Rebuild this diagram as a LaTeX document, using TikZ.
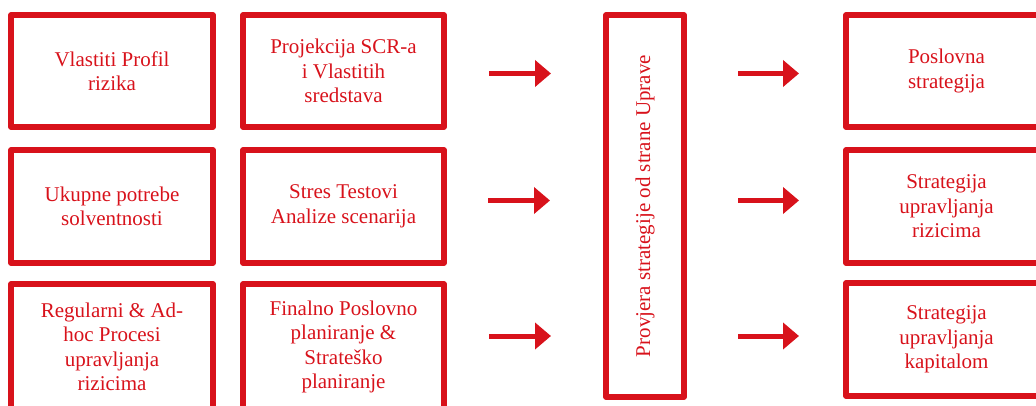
\documentclass[tikz,border=0pt]{standalone}
\usepackage{fontspec}
\setmainfont{Liberation Serif}
\usetikzlibrary{arrows.meta}
\definecolor{myred}{RGB}{216,18,27}
\tikzset{
  box/.style={draw=myred, line width=5.5pt, line join=round, text=myred,
    align=center, inner sep=0pt, font=\fontsize{21}{24.5}\selectfont},
  arr/.style={draw=myred, line width=5pt,
    -{Triangle[length=16pt,width=26pt]}}
}
\begin{document}
\begin{tikzpicture}[x=1pt,y=-1pt]
\path[use as bounding box, clip] (0,0) rectangle (1036,406);
% column 1
\node[box, minimum width=202pt, minimum height=112pt] (b11) at (112,71) {Vlastiti Profil\\rizika};
\node[box, minimum width=202pt, minimum height=113pt] (b12) at (112,206.5) {Ukupne potrebe\\solventnosti};
\node[box, minimum width=202pt, minimum height=126pt] (b13) at (112,347) {Regularni \& Ad-\\hoc Procesi\\upravljanja\\rizicima};
% column 2
\node[box, minimum width=201pt, minimum height=112pt] (b21) at (343.5,71) {Projekcija SCR-a\\i Vlastitih\\sredstava};
\node[box, minimum width=201pt, minimum height=113pt] (b22) at (343.5,206.5) {Stres Testovi\\Analize scenarija};
\node[box, minimum width=201pt, minimum height=126pt] (b23) at (343.5,347) {Finalno Poslovno\\planiranje \&\\Strateško\\planiranje};
% tall box
\node[box, minimum width=78pt, minimum height=382pt] (tall) at (645,206) {};
\node[text=myred, font=\fontsize{21}{24.5}\selectfont, rotate=90, inner sep=0pt] (talltxt) at (tall.center) {Provjera strategije od strane Uprave};
% right column
\node[box, minimum width=201pt, minimum height=112pt] (r1) at (946.5,71) {Poslovna\\strategija};
\node[box, minimum width=201pt, minimum height=113pt] (r2) at (946.5,206.5) {Strategija\\upravljanja\\rizicima};
\node[box, minimum width=201pt, minimum height=113pt] (r3) at (946.5,339.5) {Strategija\\upravljanja\\kapitalom};
% arrows
\coordinate (la1) at (489,73.5);  \coordinate (lb1) at (551,73.5);
\coordinate (la2) at (488,200.5); \coordinate (lb2) at (550,200.5);
\coordinate (la3) at (489,336);   \coordinate (lb3) at (551,336);
\coordinate (ra1) at (738,73.5);  \coordinate (rb1) at (799,73.5);
\coordinate (ra2) at (738,200.5); \coordinate (rb2) at (799,200.5);
\coordinate (ra3) at (738,336);   \coordinate (rb3) at (799,336);
\draw[arr] (la1) -- (lb1);
\draw[arr] (la2) -- (lb2);
\draw[arr] (la3) -- (lb3);
\draw[arr] (ra1) -- (rb1);
\draw[arr] (ra2) -- (rb2);
\draw[arr] (ra3) -- (rb3);
\end{tikzpicture}
\end{document}
